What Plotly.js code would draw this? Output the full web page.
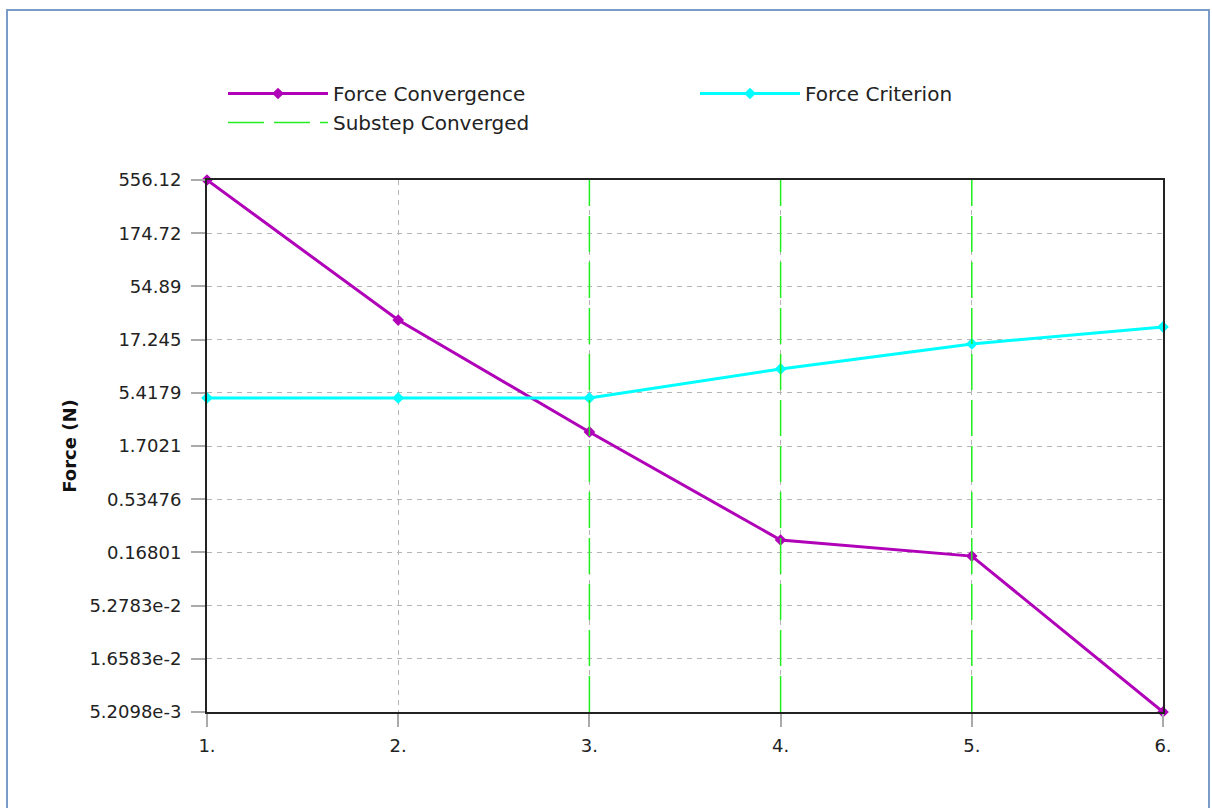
<!DOCTYPE html>
<html>
<head>
<meta charset="utf-8">
<script src="https://cdn.plot.ly/plotly-3.0.1.min.js"></script>
<style>
  html, body { margin: 0; padding: 0; background: #fff; }
  #wrap { position: relative; width: 1212px; height: 808px; }
  #chart { width: 1212px; height: 808px; }
  #frame { position: absolute; left: 6px; top: 9px; width: 1204px; height: 820px;
           border: 2px solid #7A9CC6; box-sizing: border-box; pointer-events: none; }
</style>
</head>
<body>
<div id="wrap">
  <div id="chart"></div>
  <div id="frame"></div>
</div>
<script>
// ---- data ----
const steps = [1, 2, 3, 4, 5, 6];
const stepLabels = ["1.", "2.", "3.", "4.", "5.", "6."];
const forceConvergence = [556.12, 26.4, 2.31, 0.22, 0.155, 0.0052098];
const forceCriterion = [4.85, 4.85, 4.85, 9.1, 15.7, 22.7];
const substepConverged = [3, 4, 5];
const yTickValues = [556.12, 174.72, 54.89, 17.245, 5.4179, 1.7021, 0.53476, 0.16801, 0.052783, 0.016583, 0.0052098];
const yTickLabels = ["556.12", "174.72", "54.89", "17.245", "5.4179", "1.7021", "0.53476", "0.16801", "5.2783e-2", "1.6583e-2", "5.2098e-3"];

const yMin = Math.min(...yTickValues), yMax = Math.max(...yTickValues);

// vertical lines for converged substeps
const subX = [], subY = [];
substepConverged.forEach(s => { subX.push(s, s, null); subY.push(yMin, yMax, null); });

const font = "DejaVu Sans, Verdana, sans-serif";

const traces = [
  {
    x: steps, y: forceConvergence, name: "Force Convergence",
    type: "scatter", mode: "lines+markers",
    line: { color: "#B000B8", width: 3 },
    marker: { color: "#B000B8", size: 9, symbol: "diamond" },
    cliponaxis: false
  },
  {
    x: steps, y: forceCriterion, name: "Force Criterion",
    type: "scatter", mode: "lines+markers",
    line: { color: "#00FFFF", width: 3 },
    marker: { color: "#00FFFF", size: 9, symbol: "diamond" },
    cliponaxis: false
  },
  {
    x: subX, y: subY, name: "Substep Converged",
    type: "scatter", mode: "lines",
    line: { color: "#22EE22", width: 1.5, dash: "36px,10px" },
    hoverinfo: "skip"
  }
];

const layout = {
  width: 1212, height: 808,
  margin: { l: 207, r: 49, t: 180, b: 96 },
  paper_bgcolor: "#ffffff",
  plot_bgcolor: "#ffffff",
  font: { family: font, size: 18, color: "#222" },
  showlegend: true,
  legend: {
    orientation: "h",
    x: 223 / 1212, xanchor: "left",
    y: 1 - 74 / 808, yanchor: "top",
    xref: "container", yref: "container",
    entrywidth: 357,
    itemwidth: 100,
    traceorder: "normal",
    font: { family: font, size: 20, color: "#222" },
    bgcolor: "rgba(0,0,0,0)"
  },
  xaxis: {
    range: [1, 6],
    tickvals: steps, ticktext: stepLabels,
    ticks: "outside", ticklen: 13, tickcolor: "#aaaaaa", tickwidth: 2,
    ticklabelstandoff: 3,
    showgrid: true, gridcolor: "#b5b5b5", griddash: "5px,5px", gridwidth: 1,
    showline: true, linecolor: "#222", linewidth: 2, mirror: true,
    zeroline: false,
    tickfont: { family: font, size: 18, color: "#222" }
  },
  yaxis: {
    type: "log",
    range: [Math.log10(yMin), Math.log10(yMax)],
    tickvals: yTickValues, ticktext: yTickLabels,
    ticks: "outside", ticklen: 14, tickcolor: "#aaaaaa", tickwidth: 2,
    ticklabelstandoff: 6,
    showgrid: true, gridcolor: "#b5b5b5", griddash: "5px,5px", gridwidth: 1,
    showline: true, linecolor: "#222", linewidth: 2, mirror: true,
    zeroline: false,
    tickfont: { family: font, size: 18, color: "#222" },
    title: { text: "<b>Force (N)</b>", font: { family: font, size: 18, color: "#111" }, standoff: 8 }
  }
};

Plotly.newPlot("chart", traces, layout, { displayModeBar: false, staticPlot: true });
</script>
</body>
</html>
